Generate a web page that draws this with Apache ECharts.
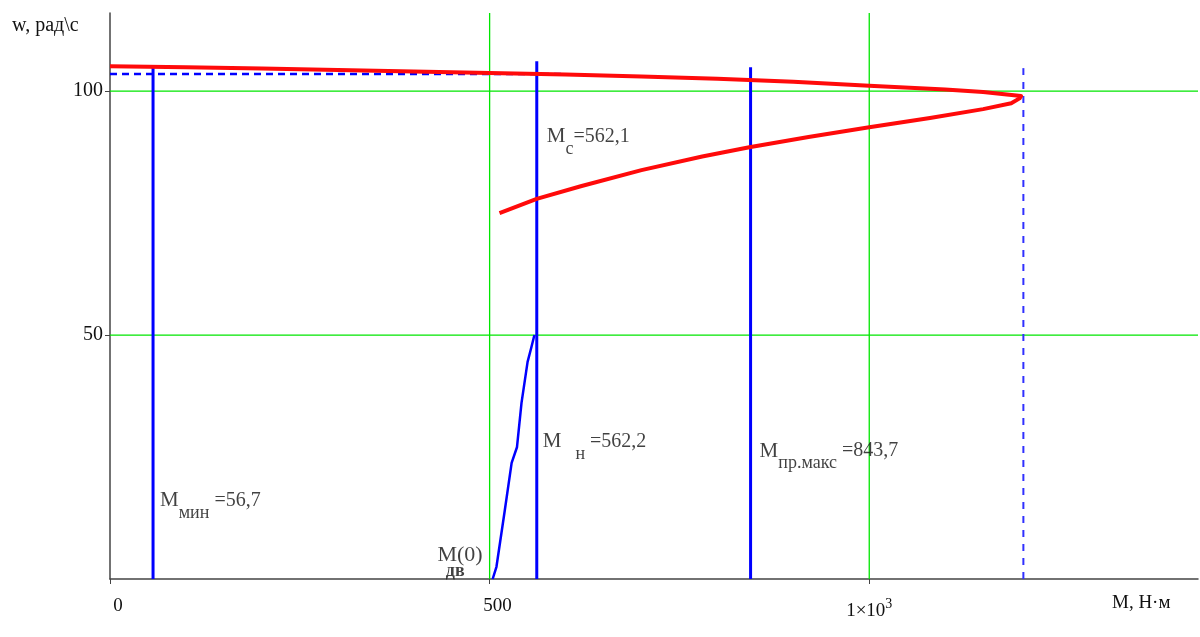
<!DOCTYPE html>
<html><head><meta charset="utf-8">
<script src="https://cdn.jsdelivr.net/npm/echarts@6/dist/echarts.min.js"></script>
<style>html,body{margin:0;padding:0;background:#fff}#c{width:1200px;height:637px}</style>
</head><body><div id="c"></div>
<script>
// Mechanical characteristic w(M): upper (working) branch and lower branch
const upperM = [0, 100, 200, 300, 400, 500, 600, 700, 800, 900, 1000, 1100, 1150, 1200];
const upperW = [105.1, 104.9, 104.6, 104.3, 104.0, 103.7, 103.4, 103.0, 102.5, 101.9, 101.1, 100.3, 99.8, 99.0];
const lowerM = [1200, 1198, 1187, 1150, 1080, 1000, 920, 842, 780, 700, 620, 562, 513];
const lowerW = [99.0, 98.5, 97.5, 96.3, 94.5, 92.6, 90.6, 88.5, 86.6, 83.8, 80.5, 77.9, 75.0];
// Starting characteristic M_дв
const startM = [504, 509, 520, 529, 536, 542, 550, 555, 559];
const startW = [0, 2.5, 14.1, 23.8, 27.0, 36.1, 44.5, 47.5, 50];
// Vertical marker lines
const markerM = [56.7, 562.1, 843.7];
const markerTop = [105.1, 106.1, 104.9];
const maxM = 1203;
const maxTop = 104.7;
// Dashed horizontal (ideal idle speed region)
const dashM = [0, 600];
const dashW = 103.5;
// Tick labels
const xTickValues = [0, 500, 1000];
const xTickLabels = ['{a|0}', '{a|500}', '{n|1×10}{p|3}'];
const yTickValues = [50, 100];
const yTickLabels = ['50', '100'];
const xMax = 1433, yMax = 116;

const serif = 'Liberation Serif';
const red = '#ff0a0a', blue = '#0000ff', green = '#00e600', axisCol = '#444', txt = '#111';

const chart = echarts.init(document.getElementById('c'));
const pairs = (xs, ys) => xs.map((x, i) => [x, ys[i]]);

const richBase = {
  m: {fontSize: 21, fontFamily: serif, color: txt, lineHeight: 22, verticalAlign: 'top'},
  t: {fontSize: 20, fontFamily: serif, color: txt, lineHeight: 22, verticalAlign: 'top'},
  s: {fontSize: 18, fontFamily: serif, color: txt, lineHeight: 18, verticalAlign: 'top', padding: [14, 0, 0, 0]},
  s2: {fontSize: 18, fontFamily: serif, color: txt, lineHeight: 18, verticalAlign: 'top', padding: [14, 0, 0, 14]},
  s3: {fontSize: 18, fontFamily: serif, color: txt, fontWeight: 'bold'},
  m2: {fontSize: 22, fontFamily: serif, color: txt}
};

const labelPoints = [
  {value: [markerM[0], 15.9], txt: '{m|M}{s|мин}{t| =56,7}', dist: 7, pos: 'right'},
  {value: [markerM[1], 90.5], txt: '{m|M}{s|c}{t|=562,1}', dist: 10, pos: 'right'},
  {value: [markerM[1], 28.0], txt: '{m|M}{s2|н}{t| =562,2}', dist: 6, pos: 'right'},
  {value: [markerM[2], 26.1], txt: '{m|M}{s|пр.макс}{t| =843,7}', dist: 9, pos: 'right'},
  {value: [startM[0], 4.9], txt: '{m2|M(0)}', dist: 10, pos: 'left'},
  {value: [startM[0], 1.6], txt: '{s3|дв}', dist: 28, pos: 'left'}
];

const vSeries = markerM.map((m, i) => ({
  type: 'line', data: [[m, 0], [m, markerTop[i]]], symbol: 'none', z: 4,
  lineStyle: {color: blue, width: 3}
}));
const gridSeries = xTickValues.slice(1).map(v => [[v, 0], [v, yMax]])
  .concat(yTickValues.map(v => [[0, v], [xMax, v]]))
  .map(d => ({type: 'line', data: d, symbol: 'none', z: 1, silent: true,
    lineStyle: {color: green, width: 1.3}}));

const option = {
  animation: false,
  grid: {left: 110, right: 2, top: 13, bottom: 58, containLabel: false},
  xAxis: {
    type: 'value', min: 0, max: xMax, interval: 500,
    axisLine: {show: true, onZero: false, lineStyle: {color: axisCol, width: 1.5}},
    axisTick: {show: true, length: 5, customValues: xTickValues, lineStyle: {color: axisCol}},
    splitLine: {show: false},
    axisLabel: {
      margin: 18, color: txt, fontFamily: serif, fontSize: 19,
      customValues: xTickValues,
      formatter: v => { const i = xTickValues.indexOf(v); return i >= 0 ? xTickLabels[i] : ''; },
      rich: {
        a: {fontSize: 19, fontFamily: serif, color: txt, padding: [0, 0, 0, 16]},
        n: {fontSize: 19, fontFamily: serif, color: txt, verticalAlign: 'bottom', lineHeight: 24},
        p: {fontSize: 14, fontFamily: serif, color: txt, verticalAlign: 'top', lineHeight: 14}
      }
    }
  },
  yAxis: {
    type: 'value', min: 0, max: yMax, interval: 50,
    axisLine: {show: true, onZero: false, lineStyle: {color: axisCol, width: 1.5}},
    axisTick: {show: true, length: 5, customValues: yTickValues, lineStyle: {color: axisCol}},
    splitLine: {show: false},
    axisLabel: {
      margin: 7, color: txt, fontFamily: serif, fontSize: 20,
      customValues: yTickValues,
      formatter: v => { const i = yTickValues.indexOf(v); return i >= 0 ? yTickLabels[i] : ''; }
    }
  },
  graphic: [
    {type: 'text', left: 12, top: 16, style: {text: 'w, рад\\с', font: '20px "Liberation Serif"', fill: txt}},
    {type: 'text', left: 1112, top: 594, style: {text: 'M, Н·м', font: '19px "Liberation Serif"', fill: txt}}
  ],
  series: [
    ...gridSeries,
    {
      type: 'line', data: pairs(dashM, dashM.map(() => dashW)), symbol: 'none', z: 3,
      lineStyle: {color: blue, width: 2.5, type: [7, 5]}
    },
    {
      type: 'line', data: [[maxM, 0], [maxM, maxTop]], symbol: 'none', z: 3,
      lineStyle: {color: '#3030ff', width: 2, type: [7, 7]}
    },
    ...vSeries,
    {
      type: 'line', data: pairs(upperM, upperW).concat(pairs(lowerM, lowerW)), symbol: 'none', z: 5,
      lineStyle: {color: red, width: 4, join: 'round'}
    },
    {
      type: 'line', data: pairs(startM, startW), symbol: 'none', z: 4,
      lineStyle: {color: blue, width: 2.5}
    },
    {
      type: 'scatter', symbolSize: 0, z: 10, silent: true,
      data: labelPoints.map(p => ({
        value: p.value,
        label: {show: true, position: p.pos, distance: p.dist, formatter: p.txt, rich: richBase}
      }))
    }
  ]
};
chart.setOption(option);
</script>
</body></html>
